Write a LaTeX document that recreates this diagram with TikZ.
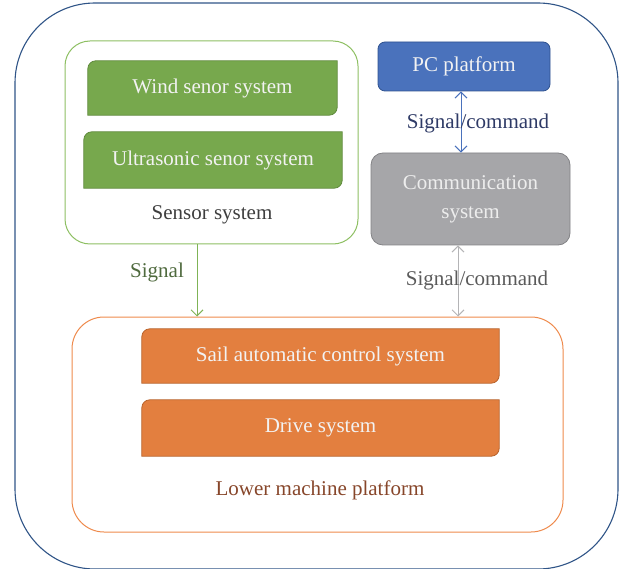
\documentclass[tikz,border=0pt]{standalone}
\usepackage{fontspec}
\setmainfont{Liberation Serif}
\usetikzlibrary{arrows.meta,backgrounds}
\definecolor{navy}{HTML}{2F5487}
\definecolor{gfill}{HTML}{77A84D}
\definecolor{gdraw}{HTML}{5F8A3C}
\definecolor{gline}{HTML}{8DBF62}
\definecolor{garrow}{HTML}{7FB356}
\definecolor{bfill}{HTML}{4A72BC}
\definecolor{bdraw}{HTML}{2F528F}
\definecolor{grfill}{HTML}{A6A6A9}
\definecolor{grdraw}{HTML}{828285}
\definecolor{grarrow}{HTML}{B4B4B6}
\definecolor{ofill}{HTML}{E37F3F}
\definecolor{odraw}{HTML}{B8622A}
\definecolor{oline}{HTML}{EE8A4C}
\definecolor{brown}{HTML}{87462A}
\definecolor{sigtxt}{HTML}{4F6A3E}
\definecolor{cmdtop}{HTML}{2E3A66}
\definecolor{cmdbot}{HTML}{5A5A5A}
\definecolor{lblgray}{HTML}{3E3E3E}
\tikzset{
  txt/.style={font=\fontsize{21}{24}\selectfont, inner sep=0pt},
  inbox/.style={txt, text=white!95!black, rectangle, draw=none},
  frame/.style={rectangle, draw, line width=1pt, inner sep=0pt},
  arr/.style={line width=1pt, >={Straight Barb[length=6pt,width=12pt]}},
}
\newcommand\dshape[4]{% node, fill, draw, radius
  \begin{scope}[on background layer]
  \filldraw[fill=#2, draw=#3, line width=0.8pt]
    (#1.north) -- (#1.north east) -- ([yshift=#4]#1.south east)
    arc[start angle=0, end angle=-90, radius=#4] -- (#1.south west) -- ([yshift=-#4]#1.north west)
    arc[start angle=180, end angle=90, radius=#4] -- cycle;
  \end{scope}}
\begin{document}
\begin{tikzpicture}[x=1pt,y=-1pt]
\useasboundingbox (0,0) rectangle (621,569);
% outer frame
\node[frame, draw=navy, line width=1.1pt, rounded corners=80pt, minimum width=603pt, minimum height=566pt] (outer) at (316.5,286) {};
% sensor system
\node[frame, draw=gline, rounded corners=25pt, minimum width=293pt, minimum height=203pt] (sensor) at (211.5,142.5) {};
\node[inbox, minimum width=249pt, minimum height=54pt] (wind) at (212.5,88) {Wind senor system};
\dshape{wind}{gfill}{gdraw}{8pt}
\node[inbox, minimum width=258pt, minimum height=56pt] (ultra) at (213,160) {Ultrasonic senor system};
\dshape{ultra}{gfill}{gdraw}{8pt}
\node[txt, text=lblgray] (sensorlbl) at (212,215) {Sensor system};
% PC platform
\node[frame, fill=bfill, draw=bdraw, line width=0.8pt, rounded corners=7pt, minimum width=172pt, minimum height=49pt, txt, text=white!95!black] (pc) at (464,66.5) {PC platform};
% communication
\node[frame, fill=grfill, draw=grdraw, line width=0.8pt, rounded corners=12pt, minimum width=199pt, minimum height=92pt, txt, text=white!93!black, align=center] (comm) at (470.5,199) {Communication\\[5pt]system};
% lower machine platform
\node[frame, draw=oline, rounded corners=32pt, minimum width=491pt, minimum height=215pt] (lower) at (317.5,424.5) {};
\node[inbox, minimum width=357pt, minimum height=54pt] (sail) at (320.5,356) {Sail automatic control system};
\dshape{sail}{ofill}{odraw}{8pt}
\node[inbox, minimum width=357pt, minimum height=56pt] (drive) at (320.5,428) {Drive system};
\dshape{drive}{ofill}{odraw}{8pt}
\node[txt, text=brown] (lowerlbl) at (320,490) {Lower machine platform};
% connectors
\coordinate (gx) at (197,0);
\coordinate (cx) at (458,0);
\coordinate (px) at (461,0);
\draw[arr, ->, draw=garrow] (sensor.south -| gx) -- (lower.north -| gx);
\draw[arr, <->, draw=grarrow] (comm.south -| cx) -- (lower.north -| cx);
\draw[arr, <->, draw=bfill] (pc.south -| px) -- (comm.north -| px);
% labels
\node[txt, text=sigtxt] (siglbl) at (157,272) {Signal};
\node[txt, text=cmdtop] (cmd1) at (478,123) {Signal/command};
\node[txt, text=cmdbot] (cmd2) at (477,280) {Signal/command};
\end{tikzpicture}
\end{document}
